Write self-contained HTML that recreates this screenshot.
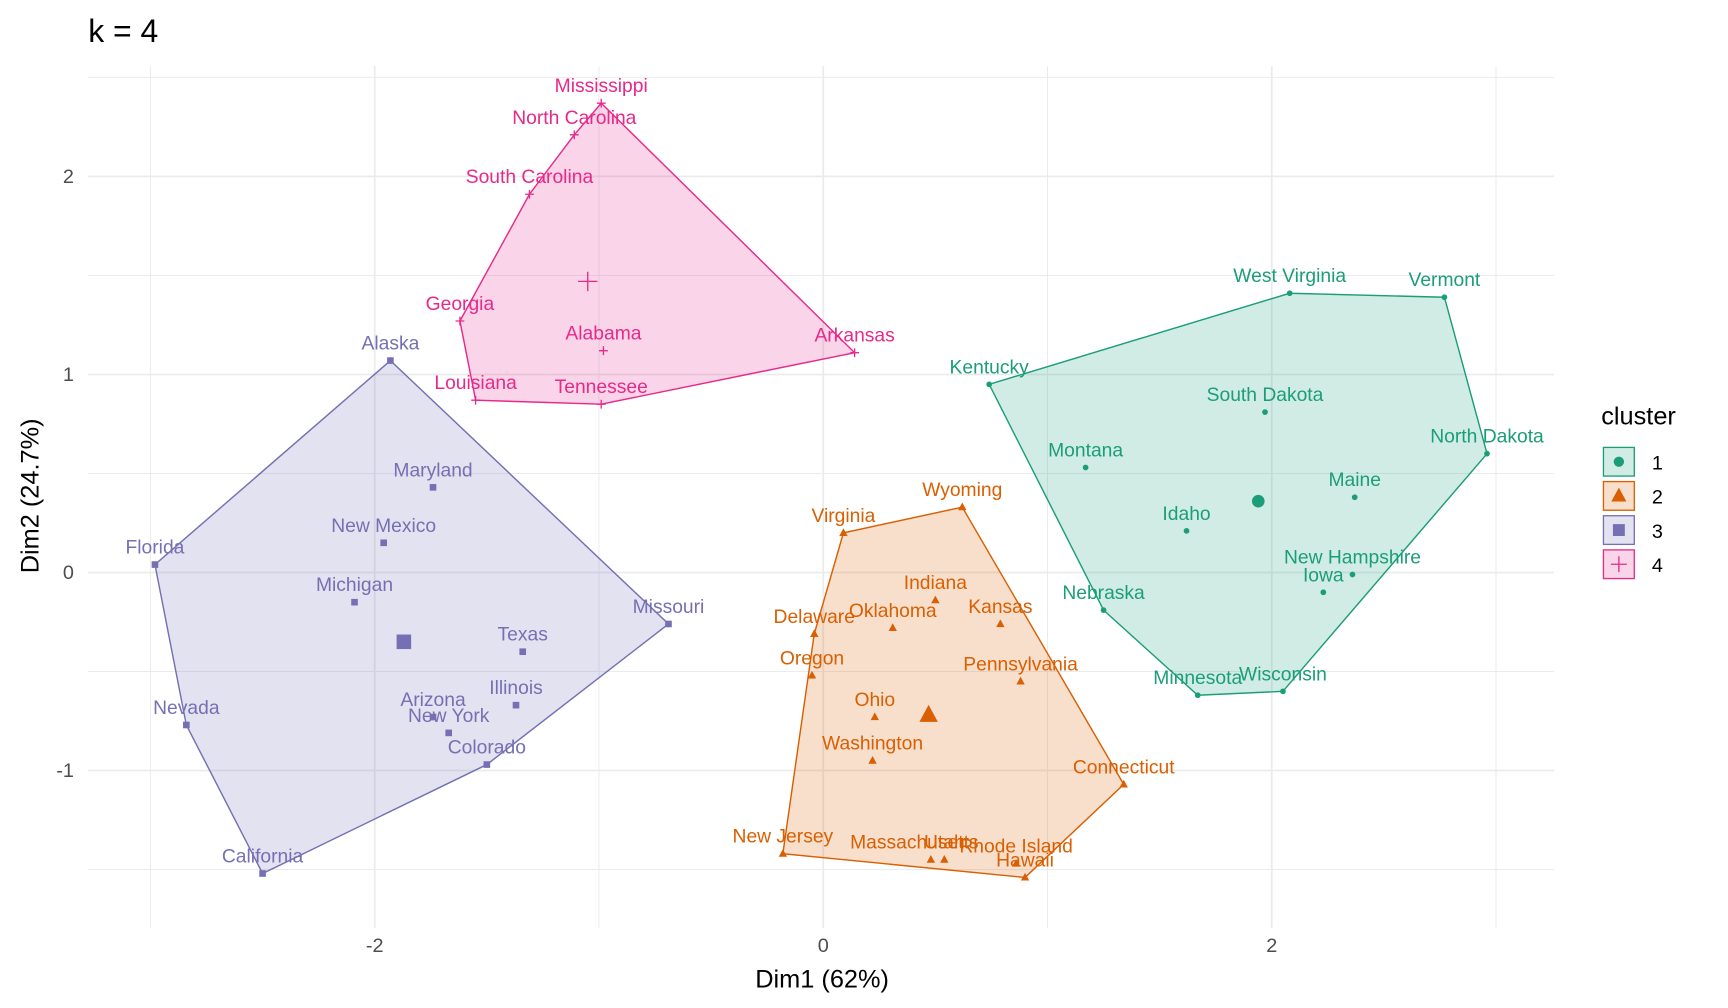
<!DOCTYPE html>
<html><head><meta charset="utf-8"><style>
html,body{margin:0;padding:0;background:#fff;}
svg{display:block;font-family:"Liberation Sans",Arial,sans-serif;}
</style></head><body>
<svg id="chart" width="1728" height="1008" viewBox="0 0 1568 914.7" xmlns="http://www.w3.org/2000/svg">
<text x="80" y="38" font-size="29" fill="#000">k = 4</text>
<g id="grid"></g>
<g id="hulls"></g>
<g id="points"></g>
<g id="labels"></g>
<g id="axes"></g>
<text x="746" y="896" font-size="23" text-anchor="middle" fill="#000">Dim1 (62%)</text>
<text transform="translate(35,450) rotate(-90)" font-size="23" text-anchor="middle" fill="#000">Dim2 (24.7%)</text>
<g id="legend">
<text x="1453" y="385" font-size="23" fill="#000">cluster</text>
</g>
</svg>
<script>
const clusterIds = [1, 2, 3, 4];
const clusterColors = ["#1B9E77", "#D95F02", "#7570B3", "#E7298A"];
const names1 = ["West Virginia","Vermont","Kentucky","South Dakota","North Dakota","Montana","Maine","Idaho","New Hampshire","Iowa","Nebraska","Minnesota","Wisconsin"];
const x1 = [2.08,2.77,0.74,1.97,2.96,1.17,2.37,1.62,2.36,2.23,1.25,1.67,2.05];
const y1 = [1.41,1.39,0.95,0.81,0.60,0.53,0.38,0.21,-0.01,-0.10,-0.19,-0.62,-0.60];
const names2 = ["Wyoming","Virginia","Indiana","Kansas","Oklahoma","Delaware","Oregon","Pennsylvania","Ohio","Washington","Connecticut","New Jersey","Massachusetts","Utah","Rhode Island","Hawaii"];
const x2 = [0.62,0.09,0.50,0.79,0.31,-0.04,-0.05,0.88,0.23,0.22,1.34,-0.18,0.48,0.54,0.86,0.90];
const y2 = [0.33,0.20,-0.14,-0.26,-0.28,-0.31,-0.52,-0.55,-0.73,-0.95,-1.07,-1.42,-1.45,-1.45,-1.47,-1.54];
const names3 = ["Alaska","Maryland","New Mexico","Michigan","Florida","Texas","Missouri","Illinois","Arizona","New York","Colorado","Nevada","California"];
const x3 = [-1.93,-1.74,-1.96,-2.09,-2.98,-1.34,-0.69,-1.37,-1.74,-1.67,-1.50,-2.84,-2.50];
const y3 = [1.07,0.43,0.15,-0.15,0.04,-0.40,-0.26,-0.67,-0.73,-0.81,-0.97,-0.77,-1.52];
const names4 = ["Mississippi","North Carolina","South Carolina","Georgia","Alabama","Louisiana","Tennessee","Arkansas"];
const x4 = [-0.99,-1.11,-1.31,-1.62,-0.98,-1.55,-0.99,0.14];
const y4 = [2.37,2.21,1.91,1.27,1.12,0.87,0.85,1.11];
const centerX = [1.94,0.47,-1.87,-1.05];
const centerY = [0.36,-0.72,-0.35,1.47];
const xTicks = [-2, 0, 2];
const yTicks = [-1, 0, 1, 2];

const NS = "http://www.w3.org/2000/svg";
const PX0 = 80, PX1 = 1410, PY0 = 60, PY1 = 842;
function sx(v){ return 747 + v * 203.5; }
function sy(v){ return 519.5 - v * 179.7; }
function mk(tag, attrs, parent){ const e = document.createElementNS(NS, tag); for (const k in attrs) e.setAttribute(k, attrs[k]); parent.appendChild(e); return e; }

const grid = document.getElementById('grid');
for (let v = -3; v <= 3; v += 1) {
  const major = xTicks.includes(v);
  const l = mk('line', {x1: sx(v), x2: sx(v), y1: PY0, y2: PY1, stroke: '#ebebeb', 'stroke-width': major ? 1.6 : 0.9}, grid);
  
  
}
for (let v = -1.5; v <= 2.5; v += 0.5) {
  const major = yTicks.includes(v);
  const l = mk('line', {x1: PX0, x2: PX1, y1: sy(v), y2: sy(v), stroke: '#ebebeb', 'stroke-width': major ? 1.6 : 0.9}, grid);
  
  
}
const axes = document.getElementById('axes');
xTicks.forEach(v => {
  const t = mk('text', {x: sx(v), y: 864, 'font-size': 18, 'text-anchor': 'middle', fill: '#4d4d4d'}, axes);
  t.textContent = v;
  
  
});
yTicks.forEach(v => {
  const t = mk('text', {x: 67, y: sy(v) + 6, 'font-size': 18, 'text-anchor': 'end', fill: '#4d4d4d'}, axes);
  t.textContent = v;
  
  
});

function hull(pts){
  const p = pts.slice().sort((a,b)=>a[0]-b[0]||a[1]-b[1]);
  const cr=(o,a,b)=>(a[0]-o[0])*(b[1]-o[1])-(a[1]-o[1])*(b[0]-o[0]);
  const lo=[],up=[];
  for(const q of p){while(lo.length>=2&&cr(lo[lo.length-2],lo[lo.length-1],q)<=0)lo.pop();lo.push(q);}
  for(const q of p.slice().reverse()){while(up.length>=2&&cr(up[up.length-2],up[up.length-1],q)<=0)up.pop();up.push(q);}
  return lo.slice(0,-1).concat(up.slice(0,-1));
}
function drawMarker(g, k, cx, cy, s, col){
  let e;
  if (k === 0) e = mk('circle', {cx, cy, r: 2.6*s, fill: col}, g);
  else if (k === 1) e = mk('polygon', {points: `${cx},${cy-4.2*s} ${cx-3.8*s},${cy+2.8*s} ${cx+3.8*s},${cy+2.8*s}`, fill: col}, g);
  else if (k === 2) e = mk('rect', {x: cx-3*s, y: cy-3*s, width: 6*s, height: 6*s, fill: col}, g);
  else e = mk('path', {d: `M${cx-4*s},${cy}H${cx+4*s}M${cx},${cy-4*s}V${cy+4*s}`, stroke: col, 'stroke-width': 1.2, fill: 'none'}, g);
  return e;
}

const allNames = [names1, names2, names3, names4];
const allX = [x1, x2, x3, x4];
const allY = [y1, y2, y3, y4];
const hullsG = document.getElementById('hulls');
const ptsG = document.getElementById('points');
const labG = document.getElementById('labels');
for (let k = 0; k < 4; k++) {
  const col = clusterColors[k];
  const pts = allX[k].map((v, i) => [sx(v), sy(allY[k][i])]);
  const h = hull(pts);
  const poly = mk('polygon', {points: h.map(p => p.join(',')).join(' '), fill: col, 'fill-opacity': 0.2, stroke: col, 'stroke-width': 1.3}, hullsG);
  
  
  pts.forEach((p, i) => {
    const m = drawMarker(ptsG, k, p[0], p[1], 1, col);
    
    
    const dx = allNames[k][i] === 'Massachusetts' ? -15 : 0;
    const t = mk('text', {x: p[0] + dx, y: p[1] - 10, 'font-size': 17.5, 'text-anchor': 'middle', fill: col}, labG);
    t.textContent = allNames[k][i];
    
    
  });
  const c = drawMarker(ptsG, k, sx(centerX[k]), sy(centerY[k]), 2.2, col);
  
  
}

const leg = document.getElementById('legend');
clusterIds.forEach((id, k) => {
  const col = clusterColors[k];
  const y = 406 + k * 31;
  const r = mk('rect', {x: 1455, y: y, width: 28, height: 26, fill: col, 'fill-opacity': 0.2, stroke: col, 'stroke-width': 1.2}, leg);
  
  
  const m = drawMarker(leg, k, 1469, y + 13, 1.8, col);
  
  
  const t = mk('text', {x: 1499, y: y + 20, 'font-size': 18, fill: '#000'}, leg);
  t.textContent = id;
  
  
});
</script>
</body></html>
